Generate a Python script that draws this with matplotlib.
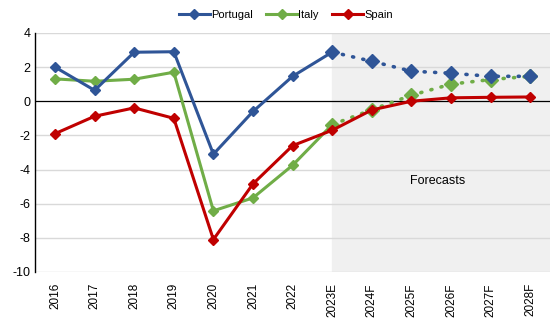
import matplotlib.pyplot as plt

plt.rcParams['font.family'] = ['Liberation Sans', 'DejaVu Sans']
plt.rcParams['axes.unicode_minus'] = False

years = ['2016', '2017', '2018', '2019', '2020', '2021', '2022',
         '2023E', '2024F', '2025F', '2026F', '2027F', '2028F']
portugal = [2.0, 0.64, 2.87, 2.9, -3.1, -0.6, 1.46, 2.88, 2.34, 1.76, 1.64, 1.46, 1.46]
italy = [1.31, 1.17, 1.29, 1.7, -6.42, -5.66, -3.75, -1.37, -0.5, 0.35, 1.0, 1.27, 1.46]
spain = [-1.9, -0.88, -0.39, -1.0, -8.1, -4.84, -2.6, -1.7, -0.51, 0.0, 0.2, 0.23, 0.25]
split = 7  # index of 2023E, first forecast year

c_pt, c_it, c_es = '#2F5597', '#70AD47', '#C00000'

fig = plt.figure(figsize=(5.5, 3.23), dpi=100)
ax = fig.add_axes([0.064, 0.158, 0.936, 0.74])

x = list(range(len(years)))
ax.axvspan(split, len(years) - 0.5, color='#F0F0F0', zorder=0)
for v in [-10, -8, -6, -4, -2, 2, 4]:
    ax.axhline(v, color='#D9D9D9', lw=1, zorder=1)
ax.axhline(0, color='black', lw=0.9, zorder=2)

# actuals
ax.plot(x[:split + 1], portugal[:split + 1], color=c_pt, lw=2.2, marker='D', ms=5.5, zorder=4, label='Portugal')
ax.plot(x[:split + 1], italy[:split + 1], color=c_it, lw=2.2, marker='D', ms=5.5, zorder=3, label='Italy')
ax.plot(x, spain, color=c_es, lw=2.2, marker='D', ms=5.5, zorder=5, label='Spain')
# forecasts
ax.plot(x[split:], portugal[split:], color=c_pt, lw=2.6, ls=(0, (0.3, 2.6)), dash_capstyle='round',
        marker='D', ms=7, zorder=4)
ax.plot(x[split:], italy[split:], color=c_it, lw=2.6, ls=(0, (0.3, 2.6)), dash_capstyle='round',
        marker='D', ms=7, zorder=3)

ax.text(9.67, -4.7, 'Forecasts', ha='center', va='center', fontsize=9)

ax.set_xlim(-0.5, len(years) - 0.5)
ax.set_ylim(-10, 4)
ax.set_yticks(range(-10, 5, 2))
ax.set_xticks(x)
ax.set_xticklabels(years, rotation=90, fontsize=8.5)
ax.tick_params(axis='y', labelsize=9, length=0)
ax.tick_params(axis='x', length=0, pad=8)
for s in ['top', 'right', 'bottom']:
    ax.spines[s].set_visible(False)
ax.spines['left'].set_color('black')
ax.spines['left'].set_linewidth(1)

fig.legend(loc='center', bbox_to_anchor=(0.52, 0.955), ncol=3, frameon=False, fontsize=8,
           handlelength=2.8, columnspacing=1.2, handletextpad=0.1)

fig.savefig('out.png', dpi=100)
